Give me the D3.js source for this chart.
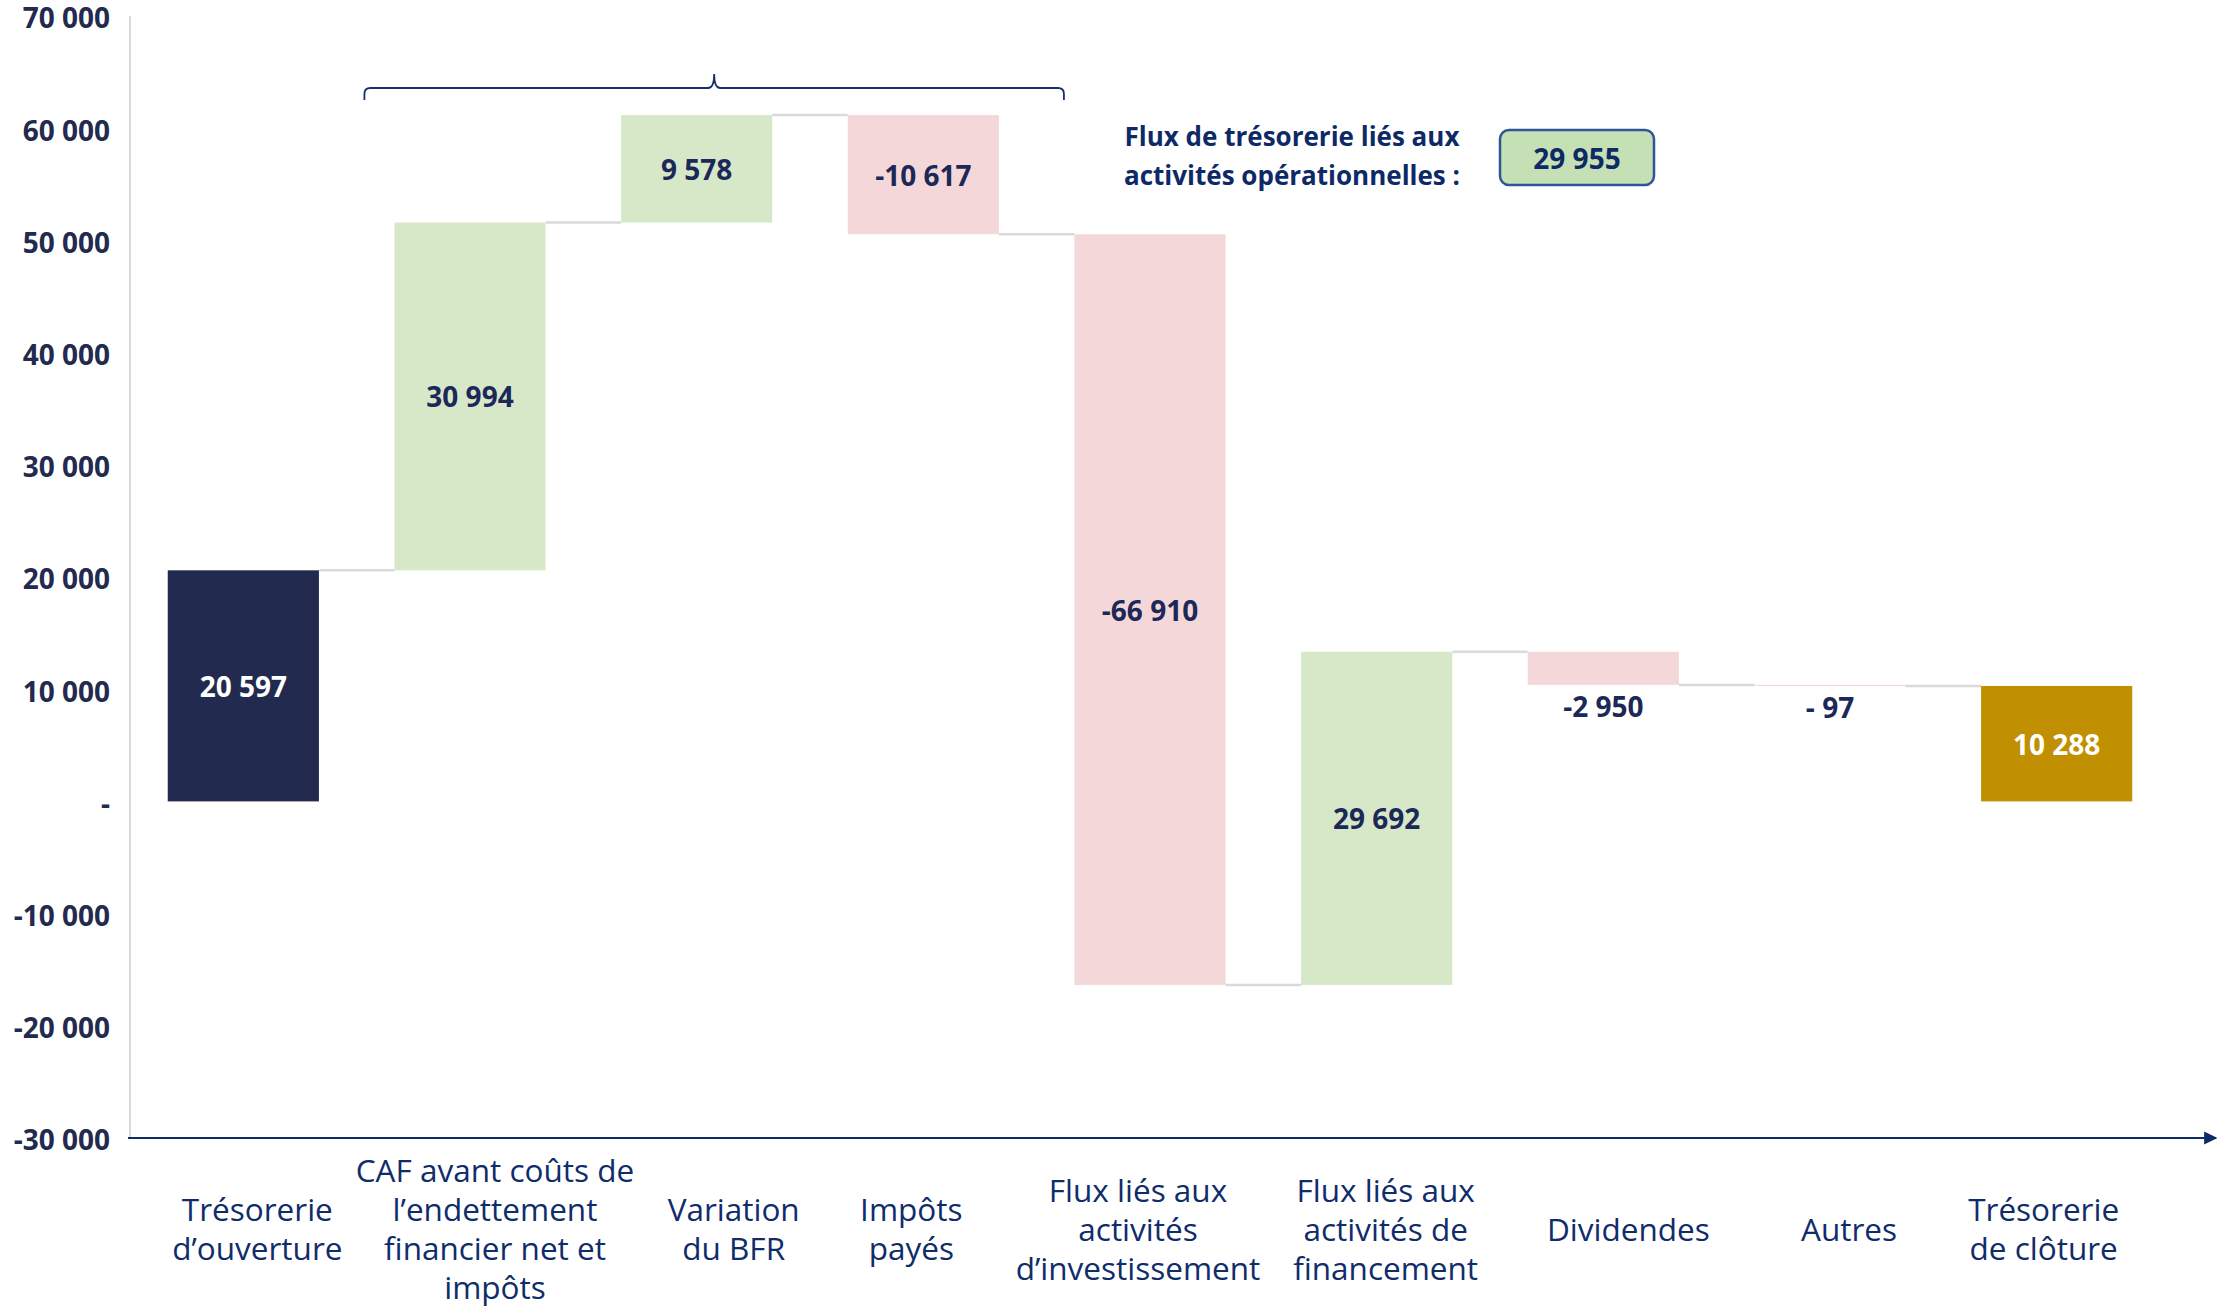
<!DOCTYPE html>
<html>
<head>
<meta charset="utf-8">
<script src="https://cdn.jsdelivr.net/npm/d3@7"></script>
<style>
  body { margin: 0; background: #fff; }
  svg text { font-family: "Open Sans", sans-serif; }
</style>
</head>
<body>
<div id="chart"></div>
<script>
// categories (line breaks as in the source labels)
const categories = [
  ["Trésorerie", "d’ouverture"],
  ["CAF avant coûts de", "l’endettement", "financier net et", "impôts"],
  ["Variation", "du BFR"],
  ["Impôts", "payés"],
  ["Flux liés aux", "activités", "d’investissement"],
  ["Flux liés aux", "activités de", "financement"],
  ["Dividendes"],
  ["Autres"],
  ["Trésorerie", "de clôture"]
];
// flows: first and last are totals
const values = [20597, 30994, 9578, -10617, -66910, 29692, -2950, -97, 10288];
const isTotal = [true, false, false, false, false, false, false, false, true];
const yTicks = [-30000, -20000, -10000, 0, 10000, 20000, 30000, 40000, 50000, 60000, 70000];
const opTitle = ["Flux de trésorerie liés aux", "activités opérationnelles :"];
const opValue = 29955;

// hand-placed text boxes in the source are not exactly under the bars
const labelNudge = [14, 25, 37, -12, -12, 9, 25, 19, -13];

const W = 2220, H = 1306;
const svg = d3.select("#chart").append("svg")
  .attr("width", W).attr("height", H);

const keys = categories.map((d, i) => "c" + i);
const x = d3.scaleBand().domain(keys).range([130, 2170])
  .paddingInner(0.333).paddingOuter(0.1665);
const y = d3.scaleLinear().domain([-30000, 70000]).range([1138, 16]);

const fr = d3.formatLocale({decimal: ",", thousands: " ", grouping: [3], currency: ["", ""], minus: "-"});
const fmtNum = fr.format(",.0f");
const fmt = v => (v < 0 && v > -1000) ? "- " + Math.abs(v) : fmtNum(v);

// running totals
let run = 0;
const bars = values.map((v, i) => {
  let start, end;
  if (isTotal[i]) { start = 0; end = v; run = v; }
  else { start = run; end = run + v; run = end; }
  return {key: keys[i], v: v, start: start, end: end, total: isTotal[i], i: i};
});

function barColor(d) {
  if (d.total) return d.i === 0 ? "#232a50" : "#c09000";
  return d.v >= 0 ? "#d7e8c8" : "#f4d8d9";
}

// y axis line (light grey)
svg.append("line")
  .attr("x1", 130).attr("x2", 130)
  .attr("y1", 16).attr("y2", y(-30000))
  .attr("stroke", "#d9d9d9").attr("stroke-width", 2);

// y tick labels
const yAxis = d3.axisLeft(y).tickValues(yTicks).tickSize(0).tickPadding(20)
  .tickFormat(d => d === 0 ? "-" : fmtNum(d));
const ga = svg.append("g").attr("transform", "translate(130,3)").call(yAxis);
ga.select(".domain").remove();
ga.selectAll("text")
  .attr("font-size", 28).attr("font-weight", 700)
  .attr("fill", "#222a50")
  .style("font-family", "'Open Sans', sans-serif");

// connectors
const conn = bars.slice(0, -1).map((d, i) => ({a: d, b: bars[i + 1], level: d.end}));
svg.selectAll(".conn").data(conn).enter().append("line")
  .attr("class", "conn")
  .attr("x1", d => x(d.a.key) + x.bandwidth())
  .attr("x2", d => x(d.b.key))
  .attr("y1", d => y(d.level)).attr("y2", d => y(d.level))
  .attr("stroke", "#d9d9d9").attr("stroke-width", 2.5);

// bars
svg.selectAll(".bar").data(bars).enter().append("rect")
  .attr("class", "bar")
  .attr("x", d => x(d.key))
  .attr("width", x.bandwidth())
  .attr("y", d => y(Math.max(d.start, d.end)))
  .attr("height", d => Math.max(1, Math.abs(y(d.start) - y(d.end))))
  .attr("fill", barColor);

// value labels
svg.selectAll(".val").data(bars).enter().append("text")
  .attr("class", "val")
  .attr("x", d => x(d.key) + x.bandwidth() / 2)
  .attr("y", d => {
    const top = y(Math.max(d.start, d.end)), bot = y(Math.min(d.start, d.end));
    return (bot - top) < 40 ? bot + 21 : (top + bot) / 2;
  })
  .attr("text-anchor", "middle")
  .attr("dominant-baseline", "central")
  .attr("font-size", 28).attr("font-weight", 700)
  .attr("fill", d => d.total ? "#ffffff" : "#1c2858")
  .text(d => fmt(d.v));

// x axis with arrow
svg.append("defs").append("marker")
  .attr("id", "arrow").attr("viewBox", "0 0 10 10")
  .attr("refX", 9).attr("refY", 5)
  .attr("markerWidth", 6).attr("markerHeight", 6)
  .attr("markerUnits", "strokeWidth")
  .attr("orient", "auto")
  .append("path").attr("d", "M0,0 L10,5 L0,10 Z").attr("fill", "#0f2a66");
svg.append("line")
  .attr("x1", 128).attr("x2", 2216)
  .attr("y1", y(-30000)).attr("y2", y(-30000))
  .attr("stroke", "#0f2a66").attr("stroke-width", 2.2)
  .attr("marker-end", "url(#arrow)");

// category labels
const lh = 39, labelMid = 1228;
const cat = svg.selectAll(".cat").data(categories).enter().append("text")
  .attr("class", "cat")
  .attr("text-anchor", "middle")
  .attr("font-size", 31.5)
  .attr("fill", "#0f2c6b");
cat.each(function(lines, i) {
  const cx = x(keys[i]) + x.bandwidth() / 2 + labelNudge[i];
  const y0 = labelMid - (lines.length - 1) * lh / 2;
  d3.select(this).selectAll("tspan").data(lines).enter().append("tspan")
    .attr("x", cx)
    .attr("y", (l, j) => y0 + j * lh)
    .attr("dominant-baseline", "central")
    .text(l => l);
});

// brace over operational flows (CAF .. Impôts payés)
const bx0 = x(keys[1]) - 30, bx1 = x(keys[3]) + x.bandwidth() + 65;
const bm = (bx0 + bx1) / 2, by = 88;
const r = 6;
svg.append("path")
  .attr("d", `M${bx0},${by + 12} L${bx0},${by + r} Q${bx0},${by} ${bx0 + r},${by}
    L${bm - r},${by} Q${bm},${by} ${bm},${by - 14}
    Q${bm},${by} ${bm + r},${by} L${bx1 - r},${by} Q${bx1},${by} ${bx1},${by + r} L${bx1},${by + 12}`)
  .attr("fill", "none").attr("stroke", "#1a2f6e").attr("stroke-width", 1.8);

// operational flows summary
svg.append("text")
  .attr("text-anchor", "middle")
  .attr("font-size", 26).attr("font-weight", 700).attr("fill", "#0d2a66")
  .selectAll("tspan").data(opTitle).enter().append("tspan")
  .attr("x", 1292)
  .attr("y", (d, j) => 136 + j * 39)
  .attr("dominant-baseline", "central")
  .text(d => d);

svg.append("rect")
  .attr("x", 1500).attr("y", 130).attr("width", 154).attr("height", 55)
  .attr("rx", 9).attr("ry", 9)
  .attr("fill", "#c5e0b4").attr("stroke", "#2f5597").attr("stroke-width", 2.5);
svg.append("text")
  .attr("x", 1577).attr("y", 158)
  .attr("text-anchor", "middle").attr("dominant-baseline", "central")
  .attr("font-size", 28).attr("font-weight", 700).attr("fill", "#0d2a66")
  .text(fmt(opValue));
</script>
</body>
</html>
